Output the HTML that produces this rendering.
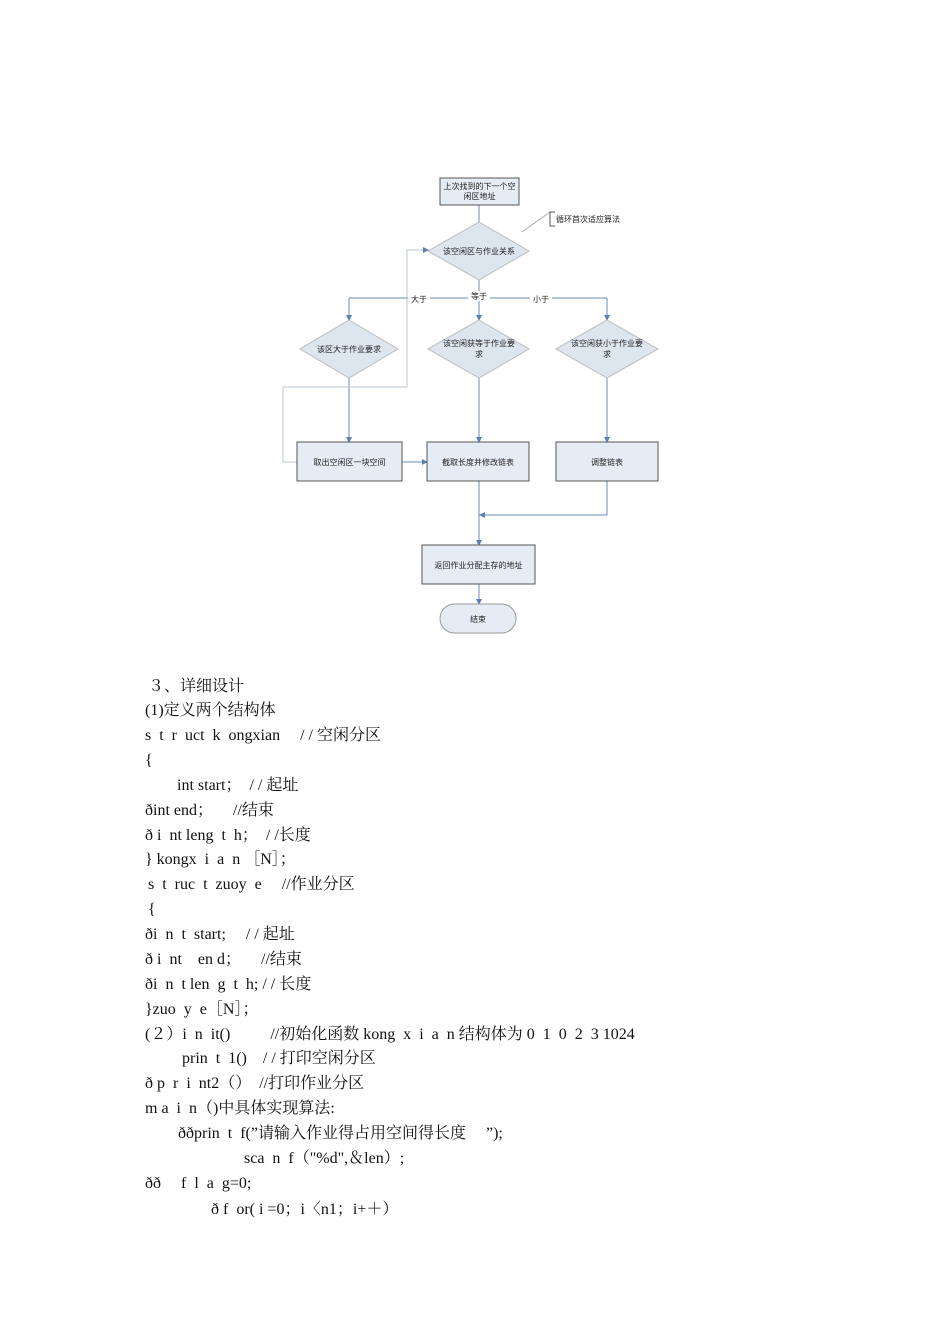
<!DOCTYPE html>
<html><head><meta charset="utf-8"><style>
body{margin:0;background:#fff;width:950px;height:1344px;position:relative;overflow:hidden}
.t{position:absolute;font-family:"Liberation Serif","Noto Serif CJK SC",serif;font-size:16px;line-height:20px;white-space:pre;color:#111;margin-top:2px}
svg text{font-family:"Liberation Sans","Noto Sans CJK SC",sans-serif;font-size:8px;fill:#222}
</style></head><body>
<svg width="950" height="660" style="position:absolute;left:0;top:0">
<defs><marker id="a" markerWidth="6" markerHeight="6" refX="5" refY="3" orient="auto"><path d="M0,0 L6,3 L0,6z" fill="#5a7fb0"/></marker></defs>
<g stroke="#6b8bb8" stroke-width="1" fill="none">
<line x1="479" y1="205" x2="479" y2="222"/>
<line x1="479" y1="280" x2="479" y2="320" marker-end="url(#a)"/>
<polyline points="349,298 607,298"/>
<line x1="349" y1="298" x2="349" y2="320" marker-end="url(#a)"/>
<line x1="607" y1="298" x2="607" y2="320" marker-end="url(#a)"/>
<line x1="349" y1="378" x2="349" y2="442" marker-end="url(#a)"/>
<line x1="479" y1="378" x2="479" y2="442" marker-end="url(#a)"/>
<line x1="607" y1="378" x2="607" y2="442" marker-end="url(#a)"/>
<line x1="402" y1="462" x2="427" y2="462" marker-end="url(#a)"/>
<line x1="479" y1="481" x2="479" y2="545" marker-end="url(#a)"/>
<polyline points="607,481 607,515 480,515" marker-end="url(#a)"/>
<line x1="479" y1="584" x2="479" y2="604" marker-end="url(#a)"/>
</g>
<polyline points="297,462 283,462 283,387 407,387 407,250 428,250" stroke="#b8c4d4" fill="none" marker-end="url(#a)"/>
<line x1="522" y1="232" x2="550" y2="212" stroke="#aaa"/>
<polyline points="555,212 550,212 550,226 555,226" stroke="#555" fill="none"/>
<text x="556" y="222">循环首次适应算法</text>
<rect x="440" y="178" width="79" height="27" fill="#e6ecf5" stroke="#555"/>
<text x="479.5" y="189" text-anchor="middle">上次找到的下一个空</text>
<text x="479.5" y="199" text-anchor="middle">闲区地址</text>
<polygon points="479,222 529,251 479,280 428,251" fill="#dde5ef" stroke="#bbb"/>
<text x="479" y="254" text-anchor="middle">该空闲区与作业关系</text>
<rect x="408" y="293" width="22" height="10" fill="#fff"/><text x="419" y="302" text-anchor="middle">大于</text>
<rect x="468" y="291" width="22" height="10" fill="#fff"/><text x="479" y="299" text-anchor="middle">等于</text>
<rect x="530" y="293" width="22" height="10" fill="#fff"/><text x="541" y="302" text-anchor="middle">小于</text>
<polygon points="349,320 398,349 349,378 300,349" fill="#dde5ef" stroke="#bbb"/>
<text x="349" y="352" text-anchor="middle">该区大于作业要求</text>
<polygon points="479,320 529,349 479,378 428,349" fill="#dde5ef" stroke="#bbb"/>
<text x="479" y="346" text-anchor="middle">该空闲获等于作业要</text><text x="479" y="357" text-anchor="middle">求</text>
<polygon points="607,320 658,349 607,378 556,349" fill="#dde5ef" stroke="#bbb"/>
<text x="607" y="346" text-anchor="middle">该空闲获小于作业要</text><text x="607" y="357" text-anchor="middle">求</text>
<rect x="297" y="442" width="105" height="39" fill="#e6ecf5" stroke="#555"/><text x="349.5" y="465" text-anchor="middle">取出空闲区一块空间</text>
<rect x="427" y="442" width="102" height="39" fill="#e6ecf5" stroke="#555"/><text x="478" y="465" text-anchor="middle">截取长度并修改链表</text>
<rect x="556" y="442" width="102" height="39" fill="#e6ecf5" stroke="#555"/><text x="607" y="465" text-anchor="middle">调整链表</text>
<rect x="422" y="545" width="113" height="39" fill="#e6ecf5" stroke="#555"/><text x="478.5" y="568" text-anchor="middle">返回作业分配主存的地址</text>
<rect x="440" y="604" width="76" height="29" rx="14.5" fill="#e6ecf5" stroke="#999"/><text x="478" y="622" text-anchor="middle">结束</text>
</svg>
<div class="t" style="left:148px;top:675px">３、详细设计</div>
<div class="t" style="left:145px;top:699px">(1)定义两个结构体</div>
<div class="t" style="left:145px;top:724px">s  t  r  uct  k  ongxian     / / 空闲分区</div>
<div class="t" style="left:145px;top:749px">{</div>
<div class="t" style="left:177px;top:774px">int start；  / / 起址</div>
<div class="t" style="left:145px;top:799px">ðint end；     //结束</div>
<div class="t" style="left:145px;top:824px">ð i  nt leng  t  h；  / /长度</div>
<div class="t" style="left:145px;top:848px">} kongx  i  a  n ［N］；</div>
<div class="t" style="left:148px;top:873px">s  t  ruc  t  zuoy  e     //作业分区</div>
<div class="t" style="left:148px;top:898px">{</div>
<div class="t" style="left:145px;top:923px">ði  n  t  start;     / / 起址</div>
<div class="t" style="left:145px;top:948px">ð i  nt    en d；     //结束</div>
<div class="t" style="left:145px;top:973px">ði  n  t len  g  t  h; / / 长度</div>
<div class="t" style="left:145px;top:998px">}zuo  y  e［N］；</div>
<div class="t" style="left:145px;top:1023px">(２）i  n  it()          //初始化函数 kong  x  i  a  n 结构体为 0  1  0  2  3 1024</div>
<div class="t" style="left:182px;top:1047px">prin  t  1()    / / 打印空闲分区</div>
<div class="t" style="left:145px;top:1072px">ð p  r  i  nt2（）  //打印作业分区</div>
<div class="t" style="left:145px;top:1097px">m a  i  n（)中具体实现算法:</div>
<div class="t" style="left:178px;top:1122px">ððprin  t  f(”请输入作业得占用空间得长度     ”);</div>
<div class="t" style="left:244px;top:1147px">sca  n  f（"%d",＆len）;</div>
<div class="t" style="left:145px;top:1172px">ðð     f  l  a  g=0;</div>
<div class="t" style="left:211px;top:1198px">ð f  or( i =0；i〈n1；i+＋）</div>
</body></html>
